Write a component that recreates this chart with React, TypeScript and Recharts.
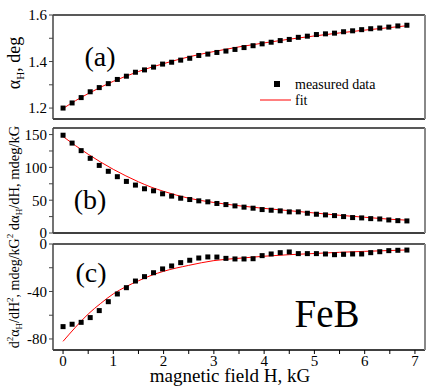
import React from 'react';
import { ComposedChart, Scatter, Line, XAxis, YAxis } from 'recharts';

// measured field values (kG)
const fieldH = [0, 0.18, 0.36, 0.54, 0.72, 0.9, 1.08, 1.26, 1.44, 1.62, 1.8, 1.98, 2.16, 2.34, 2.52, 2.7, 2.88, 3.06, 3.24, 3.42, 3.6, 3.78, 3.96, 4.14, 4.32, 4.5, 4.68, 4.86, 5.04, 5.22, 5.4, 5.58, 5.76, 5.94, 6.12, 6.3, 6.48, 6.66, 6.84];
// (a) alpha_H, deg
const alphaH = [1.2, 1.222, 1.245, 1.27, 1.288, 1.305, 1.323, 1.337, 1.354, 1.364, 1.376, 1.389, 1.397, 1.406, 1.414, 1.426, 1.432, 1.439, 1.445, 1.452, 1.46, 1.468, 1.476, 1.483, 1.49, 1.495, 1.504, 1.509, 1.516, 1.519, 1.522, 1.528, 1.532, 1.537, 1.541, 1.544, 1.548, 1.553, 1.556];
// (b) d alpha_H / dH, mdeg/kG
const dAlphaH = [149, 137, 125.5, 113.8, 103, 94, 85.8, 78.6, 73, 67.4, 64.3, 59.7, 56.2, 53, 51, 49, 47.5, 45, 43.3, 41.3, 39.4, 37.8, 35.7, 34.7, 33.7, 32.2, 32.2, 30.1, 28.6, 27.6, 26.5, 25, 23.5, 23, 21.9, 21.4, 19.9, 18.8, 18.4];
// (c) d2 alpha_H / dH2, mdeg/kG2
const d2AlphaH = [-69.6, -67.6, -66, -62, -56.1, -48.6, -42.1, -36.8, -31.2, -27.5, -24.2, -21, -18.5, -15.7, -13.7, -11.8, -10.9, -11, -12.1, -12.6, -12.6, -12.4, -9.8, -8.4, -7.3, -6.7, -8.1, -8.1, -8.1, -8.4, -9.0, -8.7, -8.4, -8.4, -7.3, -6.5, -5.6, -5.3, -5.1];

// fit curves
const fitH = [0, 0.25, 0.5, 0.75, 1, 1.25, 1.5, 1.75, 2, 2.5, 3, 3.5, 4, 4.5, 5, 5.5, 6, 6.5, 6.85];
const fitAlpha = [1.198, 1.232, 1.262, 1.29, 1.315, 1.337, 1.357, 1.375, 1.391, 1.42, 1.443, 1.463, 1.48, 1.496, 1.51, 1.523, 1.535, 1.546, 1.554];
const fitD = [147, 133, 120, 108, 97, 87, 78, 70, 63.5, 53, 46.5, 41.5, 37.5, 34, 30.5, 27, 24, 21, 19.5];
const fitD2 = [-82, -70, -59, -50, -42, -36, -31, -26.5, -23, -18, -14, -12, -10.3, -9, -8, -7, -6.2, -5.5, -5];

const xTicks = [0, 0.5, 1, 1.5, 2, 2.5, 3, 3.5, 4, 4.5, 5, 5.5, 6, 6.5, 7];
const xLabels = [0, 1, 2, 3, 4, 5, 6, 7];
const aTicks = [1.2, 1.3, 1.4, 1.5, 1.6];
const aLabels = [1.2, 1.4, 1.6];
const bTicks = [0, 25, 50, 75, 100, 125, 150];
const bLabels = [0, 50, 100, 150];
const cTicks = [-80, -60, -40, -20, 0];
const cLabels = [-80, -40, 0];

const pts = (xs: number[], ys: number[]) => xs.map((x, i) => ({ x, y: ys[i] }));

const W = 436;
const H = 386;
const FONT = '"Liberation Serif", "Times New Roman", serif';

const Square = (p: any) => (
  <rect x={p.cx - 2.5} y={p.cy - 2.5} width={5} height={5} fill="#000" />
);

const has = (list: number[], v: number) => list.some((l) => Math.abs(l - v) < 1e-6);

const makeYTick = (labels: number[], digits: number) => (p: any) => {
  const v = p.payload.value;
  if (!has(labels, v)) return <g />;
  return (
    <text x={p.x} y={p.y} dy="0.36em" textAnchor="end" fontFamily={FONT} fontSize={15} fill="#000">
      {v.toFixed(digits)}
    </text>
  );
};

const XTick = (p: any) => {
  const v = p.payload.value;
  if (!has(xLabels, v)) return <g />;
  return (
    <text x={p.x} y={p.y} dy="0.7em" textAnchor="middle" fontFamily={FONT} fontSize={15} fill="#000">
      {String(v)}
    </text>
  );
};

type PanelProps = {
  top: number;
  bottom: number;
  data: { x: number; y: number }[];
  fit: { x: number; y: number }[];
  yDomain: [number, number];
  yTicks: number[];
  yLabels: number[];
  digits: number;
  showX: boolean;
};

function Panel({ top, bottom, data, fit, yDomain, yTicks, yLabels, digits, showX }: PanelProps) {
  const xH = showX ? 30 : 6;
  return (
    <div style={{ position: 'absolute', left: 0, top: 0 }}>
      <ComposedChart width={W} height={H} margin={{ top: top - 6, right: 5, bottom: H - bottom - xH, left: 0 }}>
        <XAxis
          xAxisId="b"
          type="number"
          dataKey="x"
          domain={[-0.2, 7.2]}
          allowDataOverflow
          ticks={xTicks}
          interval={0}
          height={xH}
          tickSize={4}
          tickMargin={1}
          tick={showX ? XTick : false}
          axisLine={{ stroke: '#000', strokeWidth: 1.5 }}
          tickLine={{ stroke: '#000' }}
        />
        <XAxis
          xAxisId="t"
          orientation="top"
          type="number"
          dataKey="x"
          domain={[-0.2, 7.2]}
          allowDataOverflow
          ticks={xTicks}
          interval={0}
          height={6}
          tickSize={4}
          tick={false}
          axisLine={{ stroke: '#222', strokeWidth: 1.5 }}
          tickLine={{ stroke: '#000' }}
        />
        <YAxis
          yAxisId="l"
          type="number"
          dataKey="y"
          domain={yDomain}
          allowDataOverflow
          ticks={yTicks}
          interval={0}
          width={53}
          tickSize={4}
          tickMargin={2}
          tick={makeYTick(yLabels, digits)}
          axisLine={{ stroke: '#444', strokeWidth: 1.5 }}
          tickLine={{ stroke: '#444' }}
        />
        <YAxis
          yAxisId="r"
          orientation="right"
          type="number"
          dataKey="y"
          domain={yDomain}
          allowDataOverflow
          ticks={yTicks}
          interval={0}
          width={6}
          tickSize={4}
          tick={false}
          axisLine={{ stroke: '#888', strokeWidth: 2 }}
          tickLine={{ stroke: '#888' }}
        />
        <Scatter xAxisId="b" yAxisId="l" data={data} shape={Square} fill="#000" isAnimationActive={false} />
        <Line
          xAxisId="t"
          yAxisId="r"
          data={fit}
          dataKey="y"
          type="monotone"
          stroke="#ff0000"
          strokeWidth={1}
          dot={false}
          activeDot={false}
          isAnimationActive={false}
        />
      </ComposedChart>
    </div>
  );
}

export default function App() {
  return (
    <div style={{ position: 'absolute', left: 0, top: 0, width: W, height: H, background: '#fff', fontFamily: FONT }}>
      <Panel top={15} bottom={119} data={pts(fieldH, alphaH)} fit={pts(fitH, fitAlpha)} yDomain={[1.153, 1.6]} yTicks={aTicks} yLabels={aLabels} digits={1} showX={false} />
      <Panel top={128} bottom={233} data={pts(fieldH, dAlphaH)} fit={pts(fitH, fitD)} yDomain={[0, 160]} yTicks={bTicks} yLabels={bLabels} digits={0} showX={false} />
      <Panel top={244} bottom={350} data={pts(fieldH, d2AlphaH)} fit={pts(fitH, fitD2)} yDomain={[-89.3, 0]} yTicks={cTicks} yLabels={cLabels} digits={0} showX={true} />
      <svg width={W} height={H} style={{ position: 'absolute', left: 0, top: 0, pointerEvents: 'none' }} fontFamily={FONT}>
        {/* panel tags */}
        <text x={100} y={66} fontSize={28} textAnchor="middle">(a)</text>
        <text x={90} y={209} fontSize={28} textAnchor="middle">(b)</text>
        <text x={91} y={282} fontSize={28} textAnchor="middle">(c)</text>
        <text x={327} y={327} fontSize={39} textAnchor="middle">FeB</text>
        {/* legend */}
        <rect x={274} y={81} width={6} height={6} fill="#000" />
        <text x={295} y={89} fontSize={14}>measured data</text>
        <line x1={260} y1={100} x2={291} y2={100} stroke="#ff0000" strokeWidth={1} />
        <text x={295} y={105} fontSize={14}>fit</text>
        {/* axis titles */}
        <text x={230} y={382} fontSize={19} textAnchor="middle">magnetic field H, kG</text>
        <text x={20} y={63} fontSize={18} textAnchor="middle" transform="rotate(-90 20 63)">
          α<tspan fontSize={11} dy={4}>H</tspan><tspan dy={-4}>, deg</tspan>
        </text>
        <text x={19} y={178} fontSize={14.5} textAnchor="middle" transform="rotate(-90 19 178)">
          dα<tspan fontSize={9} dy={3}>H</tspan><tspan dy={-3}>/dH, mdeg/kG</tspan>
        </text>
        <text x={19} y={291} fontSize={14} textAnchor="middle" transform="rotate(-90 19 291)">
          d<tspan fontSize={9} dy={-6}>2</tspan><tspan dy={6}>α</tspan><tspan fontSize={9} dy={3}>H</tspan><tspan dy={-3}>/dH</tspan><tspan fontSize={9} dy={-6}>2</tspan><tspan dy={6}>, mdeg/kG</tspan><tspan fontSize={9} dy={-6}>2</tspan>
        </text>
      </svg>
    </div>
  );
}
